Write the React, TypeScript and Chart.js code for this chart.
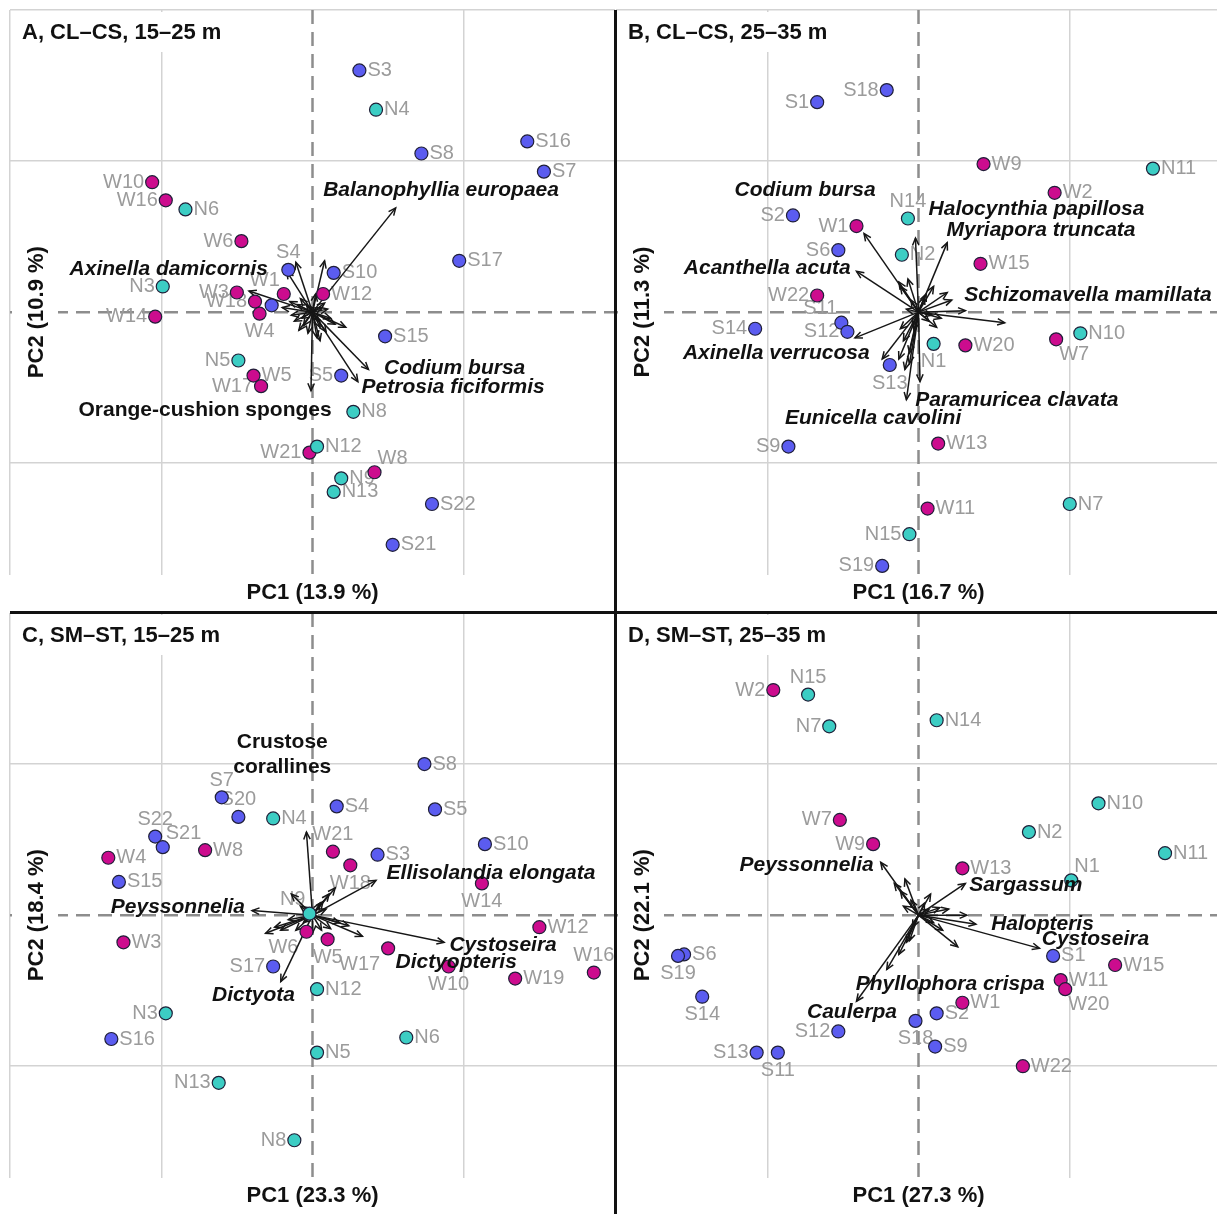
import React, { useEffect, useRef } from 'react';
import { Chart, registerables } from 'chart.js';

Chart.register(...registerables);

const FONT = '"Liberation Sans", Arial, Helvetica, sans-serif';
const GROUP_COLORS: Record<string, string> = { S: '#5b5cf0', N: '#3ccdc4', W: '#cc0c8e' };
const NON_ITALIC = ['Orange-cushion sponges', 'Crustose\ncorallines'];

// ---------------- Panel A: CL–CS, 15–25 m ----------------
const A_title = 'A, CL–CS, 15–25 m';
const A_pc1Title = 'PC1 (13.9 %)';
const A_pc2Title = 'PC2 (10.9 %)';
const A_sites = ['S3', 'N4', 'S8', 'S16', 'S7', 'W10', 'W16', 'N6', 'W6', 'S4', 'S10', 'S17', 'N3', 'W3', 'W1', 'W12', 'W18', 'W4', 'S', 'W14', 'S15', 'N5', 'W5', 'W17', 'S5', 'N8', 'N12', 'W21', 'W8', 'N9', 'N13', 'S22', 'S21'];
const A_pc1 = [0.31, 0.42, 0.72, 1.42, 1.53, -1.06, -0.97, -0.84, -0.47, -0.16, 0.14, 0.97, -0.99, -0.50, -0.19, 0.07, -0.38, -0.35, -0.27, -1.04, 0.48, -0.49, -0.39, -0.34, 0.19, 0.27, 0.03, -0.02, 0.41, 0.19, 0.14, 0.79, 0.53];
const A_pc2 = [1.60, 1.34, 1.05, 1.13, 0.93, 0.86, 0.74, 0.68, 0.47, 0.28, 0.26, 0.34, 0.17, 0.13, 0.12, 0.12, 0.07, -0.01, 0.045, -0.03, -0.16, -0.32, -0.42, -0.49, -0.42, -0.66, -0.89, -0.93, -1.06, -1.10, -1.19, -1.27, -1.54];
const A_side = ['r', 'r', 'r', 'r', 'r', 'l', 'l', 'r', 'l', 't', 'r', 'r', 'l', 'l', 'tl', 'r', 'l', 'b', 'none', 'l', 'r', 'l', 'r', 'l', 'l', 'r', 'r', 'l', 'tr', 'r', 'r', 'r', 'r'];
const A_arrowPc1 = [0.55, -0.42, 0.37, 0.30, -0.01, -0.11, -0.17, 0.08, 0.22, 0.03, -0.10, -0.14, -0.06, 0.08, 0.12, -0.08, 0.05, -0.12, 0.10, 0.02, -0.20, 0.05, -0.03, 0.15, -0.07, 0.06, -0.09, 0.04, -0.15, 0.09, -0.04];
const A_arrowPc2 = [0.69, 0.14, -0.38, -0.46, -0.52, 0.33, 0.27, 0.34, -0.10, -0.17, 0.05, -0.02, -0.09, 0.06, -0.04, 0.09, -0.10, -0.06, 0.02, 0.12, 0.03, -0.19, -0.14, -0.08, -0.04, 0.03, -0.12, -0.06, 0.07, -0.13, 0.05];
const A_species = ['Balanophyllia europaea', 'Axinella damicornis', 'Codium bursa', 'Petrosia ficiformis', 'Orange-cushion sponges'];
const A_speciesPc1 = [0.85, -0.95, 0.94, 0.93, -0.71];
const A_speciesPc2 = [0.81, 0.285, -0.37, -0.50, -0.65];

// ---------------- Panel B: CL–CS, 25–35 m ----------------
const B_title = 'B, CL–CS, 25–35 m';
const B_pc1Title = 'PC1 (16.7 %)';
const B_pc2Title = 'PC2 (11.3 %)';
const B_sites = ['S1', 'S18', 'W9', 'N11', 'W2', 'N14', 'S2', 'W1', 'S6', 'N2', 'W15', 'W22', 'S14', 'S11', 'S12', 'N10', 'W7', 'N1', 'W20', 'S13', 'S9', 'W13', 'W11', 'N7', 'N15', 'S19'];
const B_pc1 = [-0.67, -0.21, 0.43, 1.55, 0.90, -0.07, -0.83, -0.41, -0.53, -0.11, 0.41, -0.67, -1.08, -0.51, -0.47, 1.07, 0.91, 0.10, 0.31, -0.19, -0.86, 0.13, 0.06, 1.00, -0.06, -0.24];
const B_pc2 = [1.39, 1.47, 0.98, 0.95, 0.79, 0.62, 0.64, 0.57, 0.41, 0.38, 0.32, 0.11, -0.11, -0.07, -0.13, -0.14, -0.18, -0.21, -0.22, -0.35, -0.89, -0.87, -1.30, -1.27, -1.47, -1.68];
const B_side = ['l', 'l', 'r', 'r', 'r', 't', 'l', 'l', 'l', 'r', 'r', 'l', 'l', 'tl', 'l', 'r', 'br', 'b', 'r', 'b', 'l', 'r', 'r', 'r', 'l', 'l'];
const B_arrowPc1 = [-0.36, -0.02, 0.19, -0.41, 0.31, 0.57, -0.42, -0.24, -0.08, 0.01, -0.13, -0.06, -0.13, -0.07, 0.10, 0.19, 0.12, -0.12, -0.10, -0.06, -0.09, -0.12, 0.22, 0.05, -0.03, 0.15, -0.05, 0.07, -0.08, 0.04, 0.09, -0.04];
const B_arrowPc2 = [0.52, 0.49, 0.46, 0.27, 0.01, -0.07, -0.17, -0.31, -0.58, -0.46, -0.31, -0.34, 0.20, 0.22, 0.17, 0.13, -0.10, -0.11, -0.19, -0.27, -0.38, 0.17, 0.08, 0.12, -0.12, -0.04, 0.08, -0.06, 0.02, 0.10, -0.02, -0.09];
const B_species = ['Codium bursa', 'Halocynthia papillosa', 'Myriapora truncata', 'Acanthella acuta', 'Schizomavella mamillata', 'Axinella verrucosa', 'Paramuricea clavata', 'Eunicella cavolini'];
const B_speciesPc1 = [-0.75, 0.78, 0.81, -1.00, 1.12, -0.94, 0.65, -0.30];
const B_speciesPc2 = [0.81, 0.68, 0.54, 0.29, 0.11, -0.27, -0.58, -0.70];

// ---------------- Panel C: SM–ST, 15–25 m ----------------
const C_title = 'C, SM–ST, 15–25 m';
const C_pc1Title = 'PC1 (23.3 %)';
const C_pc2Title = 'PC2 (18.4 %)';
const C_sites = ['S8', 'S7', 'S20', 'N4', 'S4', 'S5', 'S22', 'S21', 'W8', 'W4', 'S10', 'W21', 'W18', 'S3', 'S15', 'W14', 'N9', 'W3', 'W6', 'W5', 'W17', 'W10', 'W12', 'W16', 'W19', 'S17', 'N12', 'N3', 'S16', 'N6', 'N5', 'N13', 'N8'];
const C_pc1 = [0.74, -0.60, -0.49, -0.26, 0.16, 0.81, -1.04, -0.99, -0.71, -1.35, 1.14, 0.135, 0.25, 0.43, -1.28, 1.12, -0.02, -1.25, -0.04, 0.10, 0.50, 0.90, 1.50, 1.86, 1.34, -0.26, 0.03, -0.97, -1.33, 0.62, 0.03, -0.62, -0.12];
const C_pc2 = [1.00, 0.78, 0.65, 0.64, 0.72, 0.70, 0.52, 0.45, 0.43, 0.38, 0.47, 0.42, 0.33, 0.40, 0.22, 0.21, 0.01, -0.18, -0.11, -0.16, -0.22, -0.34, -0.08, -0.38, -0.42, -0.34, -0.49, -0.65, -0.82, -0.81, -0.91, -1.11, -1.49];
const C_side = ['r', 't', 't', 'r', 'r', 'r', 't', 'tr', 'r', 'r', 'r', 't', 'b', 'r', 'r', 'b', 'tl', 'r', 'bl', 'b', 'bl', 'b', 'r', 't', 'r', 'l', 'r', 'l', 'r', 'r', 'r', 'l', 'l'];
const C_arrowPc1 = [-0.04, 0.42, -0.40, 0.87, 0.33, -0.21, -0.31, -0.14, 0.11, 0.07, 0.24, -0.21, -0.11, 0.15, -0.25, 0.18, 0.06, 0.00, -0.08, 0.09, -0.16, 0.12, -0.06, 0.05];
const C_arrowPc2 = [0.55, 0.23, 0.03, -0.18, -0.14, -0.44, -0.12, 0.14, 0.14, 0.09, -0.07, -0.10, -0.10, 0.18, -0.08, -0.05, -0.10, -0.12, 0.06, 0.04, -0.03, -0.09, -0.05, 0.08];
const C_species = ['Crustose\ncorallines', 'Ellisolandia elongata', 'Peyssonnelia', 'Cystoseira', 'Dictyopteris', 'Dictyota'];
const C_speciesPc1 = [-0.20, 1.18, -0.89, 1.26, 0.95, -0.39];
const C_speciesPc2 = [1.06, 0.28, 0.05, -0.20, -0.31, -0.53];

// ---------------- Panel D: SM–ST, 25–35 m ----------------
const D_title = 'D, SM–ST, 25–35 m';
const D_pc1Title = 'PC1 (27.3 %)';
const D_pc2Title = 'PC2 (22.1 %)';
const D_sites = ['W2', 'N15', 'N7', 'N14', 'N10', 'W7', 'N2', 'W9', 'N11', 'W13', 'N1', 'S1', 'W15', 'W11', 'W20', 'W1', 'S2', 'S18', 'S9', 'W22', 'S6', 'S19', 'S14', 'S12', 'S13', 'S11'];
const D_pc1 = [-0.96, -0.73, -0.59, 0.12, 1.19, -0.52, 0.73, -0.30, 1.63, 0.29, 1.01, 0.89, 1.30, 0.94, 0.97, 0.29, 0.12, -0.02, 0.11, 0.69, -1.55, -1.59, -1.43, -0.53, -1.07, -0.93];
const D_pc2 = [1.49, 1.46, 1.25, 1.29, 0.74, 0.63, 0.55, 0.47, 0.41, 0.31, 0.23, -0.27, -0.33, -0.43, -0.49, -0.58, -0.65, -0.70, -0.87, -1.00, -0.26, -0.27, -0.54, -0.77, -0.91, -0.91];
const D_side = ['l', 't', 'l', 'r', 'r', 'l', 'r', 'l', 'r', 'r', 'tr', 'r', 'r', 'r', 'br', 'r', 'r', 'b', 'r', 'r', 'r', 'b', 'b', 'l', 'l', 'b'];
const D_arrowPc1 = [-0.25, 0.31, 0.38, 0.80, -0.21, -0.41, 0.26, 0.32, -0.09, -0.12, 0.08, 0.14, -0.08, -0.16, 0.20, -0.13, -0.05, 0.10, -0.06, 0.04, -0.10, 0.16, -0.04, 0.07];
const D_arrowPc2 = [0.35, 0.21, -0.06, -0.22, -0.36, -0.57, -0.21, 0.00, 0.24, 0.16, 0.14, 0.05, -0.18, 0.21, 0.04, -0.26, 0.10, -0.05, -0.17, 0.08, 0.06, -0.10, -0.08, 0.04];
const D_species = ['Peyssonnelia', 'Sargassum', 'Halopteris', 'Cystoseira', 'Phyllophora crispa', 'Caulerpa'];
const D_speciesPc1 = [-0.74, 0.71, 0.82, 1.17, 0.21, -0.44];
const D_speciesPc2 = [0.33, 0.20, -0.06, -0.16, -0.46, -0.64];

// ---------------- Panel assembly ----------------
type PanelCfg = {
  title: string; pc1Title: string; pc2Title: string;
  sites: string[]; pc1: number[]; pc2: number[]; side: string[];
  arrowPc1: number[]; arrowPc2: number[];
  species: string[]; speciesPc1: number[]; speciesPc2: number[];
};

const PANEL_A: PanelCfg = { title: A_title, pc1Title: A_pc1Title, pc2Title: A_pc2Title, sites: A_sites, pc1: A_pc1, pc2: A_pc2, side: A_side, arrowPc1: A_arrowPc1, arrowPc2: A_arrowPc2, species: A_species, speciesPc1: A_speciesPc1, speciesPc2: A_speciesPc2 };
const PANEL_B: PanelCfg = { title: B_title, pc1Title: B_pc1Title, pc2Title: B_pc2Title, sites: B_sites, pc1: B_pc1, pc2: B_pc2, side: B_side, arrowPc1: B_arrowPc1, arrowPc2: B_arrowPc2, species: B_species, speciesPc1: B_speciesPc1, speciesPc2: B_speciesPc2 };
const PANEL_C: PanelCfg = { title: C_title, pc1Title: C_pc1Title, pc2Title: C_pc2Title, sites: C_sites, pc1: C_pc1, pc2: C_pc2, side: C_side, arrowPc1: C_arrowPc1, arrowPc2: C_arrowPc2, species: C_species, speciesPc1: C_speciesPc1, speciesPc2: C_speciesPc2 };
const PANEL_D: PanelCfg = { title: D_title, pc1Title: D_pc1Title, pc2Title: D_pc2Title, sites: D_sites, pc1: D_pc1, pc2: D_pc2, side: D_side, arrowPc1: D_arrowPc1, arrowPc2: D_arrowPc2, species: D_species, speciesPc1: D_speciesPc1, speciesPc2: D_speciesPc2 };

const X_MIN = -2, X_MAX = 2, Y_MIN = -1.74, Y_MAX = 2;

function gridColor(c: any) {
  const v = c.tick ? c.tick.value : undefined;
  if (v === undefined) return 'rgba(0,0,0,0)';
  const r = Math.round(v);
  return Math.abs(v - r) < 1e-6 && r !== 0 ? '#d3d3d3' : 'rgba(0,0,0,0)';
}

function drawArrow(ctx: CanvasRenderingContext2D, x1: number, y1: number, x2: number, y2: number) {
  const ang = Math.atan2(y2 - y1, x2 - x1);
  const h = 8;
  ctx.beginPath();
  ctx.moveTo(x1, y1);
  ctx.lineTo(x2, y2);
  ctx.stroke();
  ctx.beginPath();
  ctx.moveTo(x2 - h * Math.cos(ang - 0.42), y2 - h * Math.sin(ang - 0.42));
  ctx.lineTo(x2, y2);
  ctx.lineTo(x2 - h * Math.cos(ang + 0.42), y2 - h * Math.sin(ang + 0.42));
  ctx.stroke();
}

function labelOffset(side: string): [number, number, CanvasTextAlign] {
  switch (side) {
    case 'l': return [-8, 0, 'right'];
    case 't': return [0, -17, 'center'];
    case 'b': return [0, 18, 'center'];
    case 'tl': return [-4, -14, 'right'];
    case 'tr': return [3, -14, 'left'];
    case 'bl': return [-8, 16, 'right'];
    case 'br': return [3, 15, 'left'];
    default: return [8, 0, 'left'];
  }
}

function makePlugin(cfg: PanelCfg) {
  return {
    id: 'biplotDecor',
    beforeDatasetsDraw(chart: any) {
      const { ctx, chartArea: ca } = chart;
      const xs = chart.scales.x, ys = chart.scales.y;
      const x0 = xs.getPixelForValue(0), y0 = ys.getPixelForValue(0);
      ctx.save();
      // dashed zero lines
      ctx.strokeStyle = '#8d8d8d';
      ctx.lineWidth = 2.5;
      ctx.setLineDash([14, 8]);
      ctx.beginPath(); ctx.moveTo(x0, ca.top); ctx.lineTo(x0, ca.bottom); ctx.stroke();
      ctx.beginPath(); ctx.moveTo(ca.left, y0); ctx.lineTo(ca.right, y0); ctx.stroke();
      ctx.setLineDash([]);
      // title box + title
      ctx.fillStyle = '#ffffff';
      ctx.fillRect(ca.left + 2, ca.top + 2, 238, 40);
      ctx.fillStyle = '#111111';
      ctx.font = `bold 22px ${FONT}`;
      ctx.textAlign = 'left';
      ctx.textBaseline = 'middle';
      ctx.fillText(cfg.title, ca.left + 12, ca.top + 23);
      // white box behind the y title
      ctx.fillStyle = '#ffffff';
      ctx.fillRect(ca.left + 2, y0 - 78, 46, 156);
      // site labels
      ctx.font = `20px ${FONT}`;
      ctx.fillStyle = '#9b9b9b';
      ctx.textBaseline = 'middle';
      cfg.sites.forEach((name, i) => {
        const side = cfg.side[i];
        if (side === 'none') return;
        const px = xs.getPixelForValue(cfg.pc1[i]);
        const py = ys.getPixelForValue(cfg.pc2[i]);
        const [dx, dy, align] = labelOffset(side);
        ctx.textAlign = align;
        ctx.fillText(name, px + dx, py + dy);
      });
      // arrows
      ctx.strokeStyle = '#161616';
      ctx.lineWidth = 1.5;
      cfg.arrowPc1.forEach((ax, i) => {
        drawArrow(ctx, x0, y0, xs.getPixelForValue(ax), ys.getPixelForValue(cfg.arrowPc2[i]));
      });
      ctx.restore();
    },
    afterDatasetsDraw(chart: any) {
      const { ctx, chartArea: ca } = chart;
      const xs = chart.scales.x, ys = chart.scales.y;
      const x0 = xs.getPixelForValue(0), y0 = ys.getPixelForValue(0);
      ctx.save();
      ctx.fillStyle = '#111111';
      ctx.textAlign = 'center';
      ctx.textBaseline = 'middle';
      cfg.species.forEach((name, i) => {
        const italic = NON_ITALIC.indexOf(name) < 0;
        ctx.font = `${italic ? 'italic ' : ''}bold 21px ${FONT}`;
        const px = xs.getPixelForValue(cfg.speciesPc1[i]);
        const py = ys.getPixelForValue(cfg.speciesPc2[i]);
        const lines = name.split('\n');
        lines.forEach((ln, k) => {
          ctx.fillText(ln, px, py + (k - (lines.length - 1) / 2) * 25);
        });
      });
      // axis titles
      ctx.font = `bold 22px ${FONT}`;
      ctx.fillText(cfg.pc1Title, x0, ca.bottom + 18);
      ctx.save();
      ctx.translate(ca.left + 27, y0);
      ctx.rotate(-Math.PI / 2);
      ctx.fillText(cfg.pc2Title, 0, 0);
      ctx.restore();
      ctx.restore();
    },
  };
}

function Panel({ cfg, left, top }: { cfg: PanelCfg; left: number; top: number }) {
  const ref = useRef<HTMLCanvasElement>(null);
  useEffect(() => {
    const groups = ['S', 'N', 'W'];
    const datasets = groups.map((g) => ({
      label: g,
      data: cfg.sites
        .map((n, i) => ({ n, x: cfg.pc1[i], y: cfg.pc2[i] }))
        .filter((p) => p.n.charAt(0) === g)
        .map((p) => ({ x: p.x, y: p.y })),
      backgroundColor: GROUP_COLORS[g],
      borderColor: '#1f1f38',
      borderWidth: 1.2,
      pointRadius: 6.5,
      pointHoverRadius: 6.5,
      showLine: false,
    }));
    const chart = new Chart(ref.current as HTMLCanvasElement, {
      type: 'scatter',
      data: { datasets },
      options: {
        responsive: false,
        animation: false,
        devicePixelRatio: 1,
        layout: { autoPadding: false, padding: { left: 4, top: 4, right: 0, bottom: 37 } },
        plugins: { legend: { display: false }, tooltip: { enabled: false } },
        events: [],
        scales: {
          x: {
            type: 'linear', min: X_MIN, max: X_MAX,
            ticks: { display: false, stepSize: 1 },
            grid: { color: gridColor, lineWidth: 1.5, drawTicks: false },
            border: { display: false },
          },
          y: {
            type: 'linear', min: Y_MIN, max: Y_MAX,
            ticks: { display: false, stepSize: 1 },
            grid: { color: gridColor, lineWidth: 1.5, drawTicks: false },
            border: { display: false },
          },
        },
      } as any,
      plugins: [makePlugin(cfg)],
    });
    return () => chart.destroy();
  }, [cfg]);
  return (
    <canvas
      ref={ref}
      width={609}
      height={606}
      style={{ position: 'absolute', left, top, width: 609, height: 606 }}
    />
  );
}

export default function App() {
  return (
    <div style={{ position: 'fixed', left: 0, top: 0, width: 1217, height: 1214, overflow: 'hidden', background: '#ffffff' }}>
      <Panel cfg={PANEL_A} left={6} top={6} />
      <Panel cfg={PANEL_B} left={612} top={6} />
      <Panel cfg={PANEL_C} left={6} top={609} />
      <Panel cfg={PANEL_D} left={612} top={609} />
      <div style={{ position: 'absolute', left: 614, top: 10, width: 3, height: 1204, background: '#111111' }} />
      <div style={{ position: 'absolute', left: 10, top: 611, width: 1207, height: 3, background: '#111111' }} />
    </div>
  );
}
